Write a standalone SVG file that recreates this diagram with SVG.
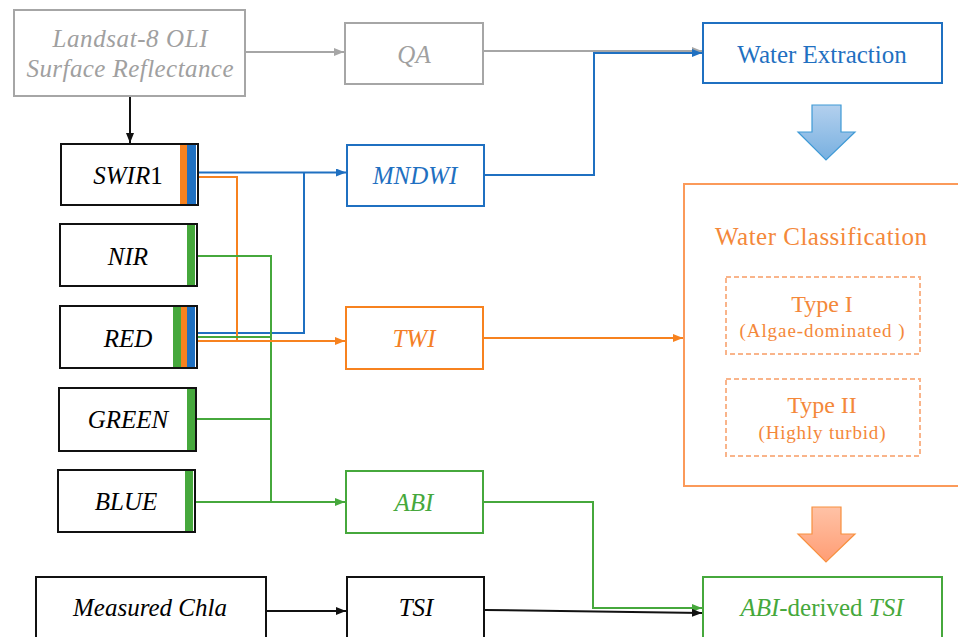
<svg xmlns="http://www.w3.org/2000/svg" width="958" height="637" viewBox="0 0 958 637">
<defs>
<style>
.box{fill:#fff;stroke-width:2}
.blk{stroke:#111}
.gry{stroke:#a6a6a6}
.blu{stroke:#1f70c1}
.org{stroke:#f7821f}
.grn{stroke:#46a83c}
.lbl{font-family:"Liberation Serif","Times New Roman",serif;font-size:25px;text-anchor:middle}
.ital{font-style:italic}
.dash{fill:none;stroke:#f9b48a;stroke-width:2;stroke-dasharray:5,3}
.ln{fill:none;stroke-width:2}
</style>
<marker id="aK" markerWidth="10" markerHeight="8" refX="10" refY="4" orient="auto" markerUnits="userSpaceOnUse"><path d="M0,0 L10,4 L0,8 z" fill="#111"/></marker>
<marker id="aG" markerWidth="10" markerHeight="8" refX="10" refY="4" orient="auto" markerUnits="userSpaceOnUse"><path d="M0,0 L10,4 L0,8 z" fill="#a6a6a6"/></marker>
<marker id="aB" markerWidth="10" markerHeight="8" refX="10" refY="4" orient="auto" markerUnits="userSpaceOnUse"><path d="M0,0 L10,4 L0,8 z" fill="#1f70c1"/></marker>
<marker id="aO" markerWidth="10" markerHeight="8" refX="10" refY="4" orient="auto" markerUnits="userSpaceOnUse"><path d="M0,0 L10,4 L0,8 z" fill="#f7821f"/></marker>
<marker id="aN" markerWidth="10" markerHeight="8" refX="10" refY="4" orient="auto" markerUnits="userSpaceOnUse"><path d="M0,0 L10,4 L0,8 z" fill="#46a83c"/></marker>
<linearGradient id="gB" x1="0" y1="0" x2="0" y2="1"><stop offset="0" stop-color="#b3d0ee"/><stop offset="1" stop-color="#78b0e0"/></linearGradient>
<linearGradient id="gO" x1="0" y1="0" x2="0" y2="1"><stop offset="0" stop-color="#ffc2a6"/><stop offset="1" stop-color="#ff9d74"/></linearGradient>
</defs>

<g id="connectors">
<path class="ln" stroke="#111" d="M130,96 V143" marker-end="url(#aK)"/>
<path class="ln" stroke="#a6a6a6" d="M245,52 H344" marker-end="url(#aG)"/>
<path class="ln" stroke="#a6a6a6" d="M483,51 H702" marker-end="url(#aG)"/>
<path class="ln" stroke="#1f70c1" d="M484,175 H594 V53 H702" marker-end="url(#aB)"/>
<path class="ln" stroke="#1f70c1" d="M196,333 H304 V172.5"/>
<path class="ln" stroke="#1f70c1" d="M197,172.5 H346" marker-end="url(#aB)"/>
<path class="ln" stroke="#f7821f" d="M197,177 H237 V341"/>
<path class="ln" stroke="#46a83c" d="M196,256 H271 V502"/>
<path class="ln" stroke="#46a83c" d="M196,337 H271"/>
<path class="ln" stroke="#46a83c" d="M196,419 H271"/>
<path class="ln" stroke="#f7821f" stroke-width="2.5" d="M187,341 H345" marker-end="url(#aO)"/>
<path class="ln" stroke="#46a83c" d="M194,502 H345" marker-end="url(#aN)"/>
<path class="ln" stroke="#f7821f" d="M483,338 H683" marker-end="url(#aO)"/>
<path class="ln" stroke="#46a83c" d="M483,502 H593 V608 H702" marker-end="url(#aN)"/>
<path class="ln" stroke="#111" d="M266,611 H346" marker-end="url(#aK)"/>
<path class="ln" stroke="#111" d="M485,610 L702,613" marker-end="url(#aK)"/>
</g>

<g id="landsat">
<rect class="box gry" x="14" y="10" width="231" height="86"/>
<text class="lbl ital" x="130" y="47" fill="#a0a0a0" textLength="155">Landsat-8 OLI</text>
<text class="lbl ital" x="130" y="77" fill="#a0a0a0" textLength="207">Surface Reflectance</text>
</g>
<g id="qa">
<rect class="box gry" x="345" y="23" width="138" height="61"/>
<text class="lbl ital" x="414" y="63" fill="#a0a0a0">QA</text>
</g>
<g id="water-extraction">
<rect class="box blu" x="703" y="23" width="239" height="60" stroke-width="2.5"/>
<text class="lbl" x="822" y="63" fill="#1f70c1">Water Extraction</text>
</g>
<g id="arrow-blue">
<path d="M812,105 H841 V132 H855 L826,160 L798,132 H812 Z" fill="url(#gB)" stroke="#3f9ad6" stroke-width="1.2"/>
</g>

<g id="swir1">
<rect class="box blk" x="61" y="144" width="137" height="61"/>
<rect x="180" y="145" width="7" height="59" fill="#f7821f"/>
<rect x="187" y="145" width="9" height="59" fill="#1f70c1"/>
<text class="lbl" x="128" y="184" fill="#000"><tspan class="ital">SWIR</tspan>1</text>
</g>
<g id="nir">
<rect class="box blk" x="60" y="224" width="137" height="62"/>
<rect x="187" y="225" width="8" height="60" fill="#46a83c"/>
<text class="lbl ital" x="128" y="265" fill="#000">NIR</text>
</g>
<g id="red">
<rect class="box blk" x="60" y="306" width="137" height="62"/>
<rect x="173" y="307" width="8" height="60" fill="#46a83c"/>
<rect x="181" y="307" width="6" height="60" fill="#f7821f"/>
<rect x="187" y="307" width="8" height="60" fill="#1f70c1"/>
<text class="lbl ital" x="128" y="347" fill="#000">RED</text>
</g>
<g id="green">
<rect class="box blk" x="59" y="388" width="137" height="63"/>
<rect x="187" y="389" width="8" height="61" fill="#46a83c"/>
<text class="lbl ital" x="128" y="428" fill="#000">GREEN</text>
</g>
<g id="blue">
<rect class="box blk" x="58" y="470" width="137" height="62"/>
<rect x="185" y="471" width="8" height="60" fill="#46a83c"/>
<text class="lbl ital" x="126" y="510" fill="#000">BLUE</text>
</g>

<g id="mndwi">
<rect class="box blu" x="347" y="145" width="137" height="61"/>
<text class="lbl ital" x="415" y="184" fill="#1f70c1">MNDWI</text>
</g>
<g id="twi">
<rect class="box org" x="346" y="307" width="137" height="62"/>
<text class="lbl ital" x="414" y="347" fill="#f47f26">TWI</text>
</g>
<g id="abi">
<rect class="box grn" x="346" y="471" width="137" height="62"/>
<text class="lbl ital" x="414" y="511" fill="#46a83c">ABI</text>
</g>

<g id="water-classification">
<rect x="684" y="184" width="290" height="302" fill="#fff" stroke="#fb9a5a" stroke-width="2"/>
<text class="lbl" x="821" y="245" fill="#f4883a" textLength="212">Water Classification</text>
</g>
<g id="type1">
<rect class="dash" x="726" y="277" width="194" height="77"/>
<text class="lbl" x="822" y="312" fill="#f4883a" style="font-size:24px">Type I</text>
<text class="lbl" x="822" y="337" fill="#f4883a" style="font-size:19px" textLength="165">(Algae-dominated )</text>
</g>
<g id="type2">
<rect class="dash" x="726" y="379" width="194" height="77"/>
<text class="lbl" x="822" y="413" fill="#f4883a" style="font-size:24px">Type II</text>
<text class="lbl" x="822" y="439" fill="#f4883a" style="font-size:19px" textLength="127">(Highly turbid)</text>
</g>
<g id="arrow-orange">
<path d="M812,507 H841 V534 H855 L826,562 L798,534 H812 Z" fill="url(#gO)" stroke="#f7903f" stroke-width="1.2"/>
</g>

<g id="measured-chla">
<rect class="box blk" x="36" y="577" width="230" height="70"/>
<text class="lbl ital" x="150" y="616" fill="#000">Measured Chla</text>
</g>
<g id="tsi">
<rect class="box blk" x="347" y="577" width="137" height="70"/>
<text class="lbl ital" x="416" y="616" fill="#000">TSI</text>
</g>
<g id="abi-derived-tsi">
<rect class="box grn" x="703" y="577" width="239" height="70"/>
<text class="lbl" x="822" y="616" fill="#46a83c"><tspan class="ital">ABI</tspan>-derived <tspan class="ital">TSI</tspan></text>
</g>
</svg>
